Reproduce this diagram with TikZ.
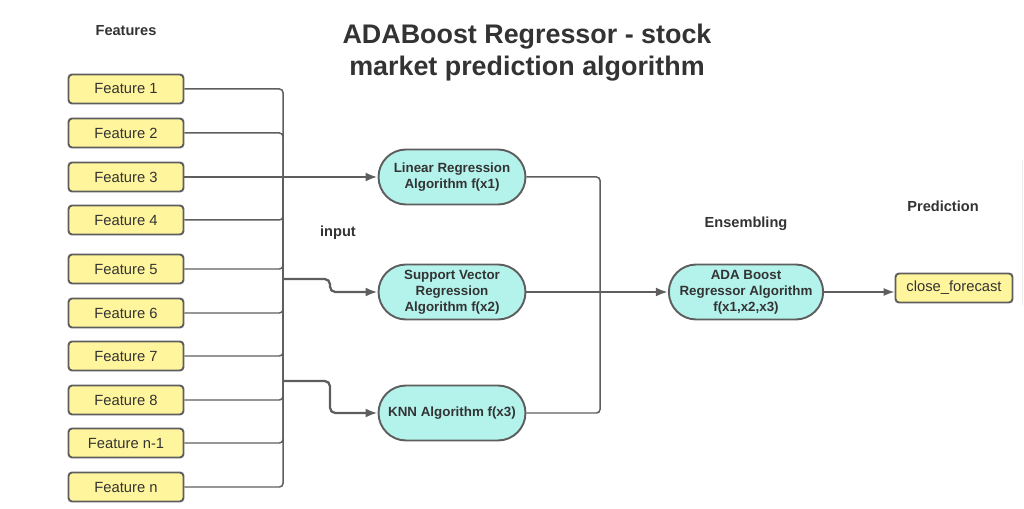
\documentclass[tikz,border=0pt]{standalone}
\usepackage{fontspec}
\setmainfont{Liberation Sans}
\usetikzlibrary{shapes.misc,arrows.meta}
\definecolor{featfill}{HTML}{FFF59D}
\definecolor{algofill}{HTML}{B4F3EC}
\definecolor{edgegray}{HTML}{5E5E5E}
\definecolor{textgray}{HTML}{333333}

\begin{document}
\begin{tikzpicture}[x=0.02cm,y=-0.02cm,
		feature/.style={draw=edgegray,
			line width=1.1pt,
			fill=featfill,
			rounded corners=2pt,
			minimum width=2.3cm,
			minimum height=0.58cm,
			inner sep=0pt,
			text=textgray,
			font=\fontsize{8.4}{10}\selectfont},
		algo/.style={rounded rectangle,
			draw=edgegray,
			line width=1.1pt,
			fill=algofill,
			minimum width=2.94cm,
			minimum height=1.1cm,
			inner sep=0pt,
			align=center,
			text=textgray,
			font=\bfseries\fontsize{7.6}{9}\selectfont},
		heading/.style={text=textgray,
			font=\bfseries\fontsize{8.3}{10}\selectfont},
		feedline/.style={draw=edgegray,
			line width=0.85pt,
			rounded corners=2pt},
		arrowline/.style={draw=edgegray,
			line width=1.3pt,
			rounded corners=3pt,
			-{Latex[length=2.4mm,width=1.8mm]}}]
		\useasboundingbox (0,0) rectangle (1024,509);
		% title
		\node[text=textgray,
		align=center,
		font=\bfseries\fontsize{15.3}{18.2}\selectfont] (title) at (527,53)
		{ADABoost Regressor - stock\\market prediction algorithm};
		% headings
		\node[heading] (hfeat) at (126,31) {Features};
		\node[heading] (hinput) at (338,233) {input};
		\node[heading] (hens) at (746,224) {Ensembling};
		\node[heading] (hpred) at (943,206) {Prediction};
		% features
		\node[feature] (f1) at (126,89) {Feature 1};
		\node[feature] (f2) at (126,133) {Feature 2};
		\node[feature] (f3) at (126,177) {Feature 3};
		\node[feature] (f4) at (126,220) {Feature 4};
		\node[feature] (f5) at (126,269) {Feature 5};
		\node[feature] (f6) at (126,313) {Feature 6};
		\node[feature] (f7) at (126,356) {Feature 7};
		\node[feature] (f8) at (126,400) {Feature 8};
		\node[feature] (fn1) at (126,443) {Feature n-1};
		\node[feature] (fn) at (126,487) {Feature n};
		% algorithms
		\node[algo] (linreg) at (452,177) {Linear Regression\\Algorithm f(x1)};
		\node[algo] (svr) at (452,292) {Support Vector\\Regression\\Algorithm f(x2)};
		\node[algo] (knn) at (452,413) {KNN Algorithm f(x3)};
		% ensemble and output
		\node[algo] (ada) at (746,292) {ADA Boost\\Regressor Algorithm\\f(x1,x2,x3)};
		\node[feature,
		minimum width=2.34cm] (close) at (954,288) {close\_forecast};
		% bus coordinates
		\coordinate (jlin) at (283,177);
		\coordinate (jsvr) at (283,279);
		\coordinate (ksvr) at (330,279);
		\coordinate (jknn) at (283,381);
		\coordinate (kknn) at (330,381);
		\coordinate (jada) at (600,292);
		% feature lines into the bus
		\draw[feedline] (f1.east) -| (jlin);
		\draw[feedline] (f2.east) -| (jlin);
		\draw[feedline] (f3.east) -- (jlin);
		\draw[feedline] (f4.east) -| (jlin);
		\draw[feedline] (f5.east) -| (jlin);
		\draw[feedline] (f6.east) -| (jlin);
		\draw[feedline] (f7.east) -| (jlin);
		\draw[feedline] (f8.east) -| (jlin);
		\draw[feedline] (fn1.east) -| (jlin);
		\draw[feedline] (fn.east) -| (jlin);
		% inputs to the algorithms
		\draw[arrowline] (jlin) -- (linreg.west);
		\draw[arrowline] (jsvr) -- (ksvr) |- (svr.west);
		\draw[arrowline] (jknn) -- (kknn) |- (knn.west);
		% algorithms into the ensemble
		\draw[feedline] (linreg.east) -| (jada);
		\draw[feedline] (svr.east) -- (jada);
		\draw[feedline] (knn.east) -| (jada);
		\draw[arrowline] (jada) -- (ada.west);
		% prediction
		\draw[feedline,
		-{Latex[length=2.2mm,width=1.6mm]}] (ada.east) -- (ada.east -| close.west);
		% faint edge
		\draw[gray!15,line width=0.6pt] (1022.5,160) -- (1022.5,305);
\end{tikzpicture}
\end{document}
